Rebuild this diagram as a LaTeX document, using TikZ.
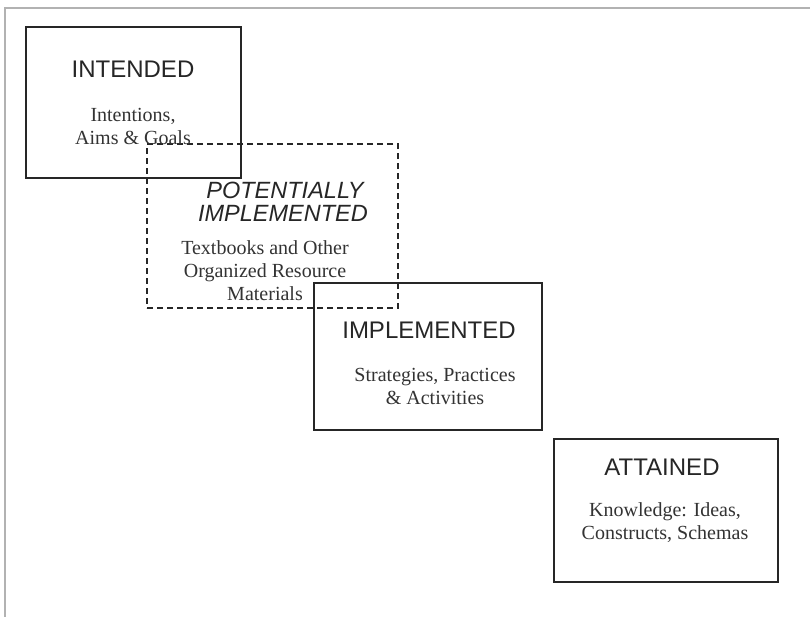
\documentclass[tikz,border=0pt]{standalone}
\usepackage{fontspec}
\setmainfont{Liberation Serif}
\newfontfamily\arialfont{Liberation Sans}
\begin{document}
\begin{tikzpicture}[x=1pt,y=-1pt,
  box/.style={draw=black!85, line width=1.8pt, inner sep=0pt, rectangle},
  dbox/.style={draw=black!85, line width=1.5pt, dash pattern=on 6pt off 4pt, inner sep=0pt, rectangle},
  title/.style={font=\arialfont\fontsize{24}{28}\selectfont, text=black!85, inner sep=0pt},
  ititle/.style={font=\arialfont\itshape\fontsize{23.5}{28}\selectfont, text=black!85, inner sep=0pt},
  body/.style={font=\fontsize{20}{23}\selectfont, text=black!80, inner sep=0pt, align=center}]
\useasboundingbox (0,0) rectangle (810,616);
\fill[white] (0,0) rectangle (810,616);
\draw[black!30, line width=2pt] (810,8) -- (5,8) -- (5,617);
% boxes
\node[box, minimum width=215, minimum height=151] (intended) at (133.5,102.5) {};
\node[dbox, minimum width=251, minimum height=164] (potential) at (272.5,226) {};
\node[box, minimum width=228, minimum height=147] (implemented) at (428,356.5) {};
\node[box, minimum width=224, minimum height=143] (attained) at (666,510.5) {};
% texts
\node[title] (t1) at (133,69) {INTENDED};
\node[body] (b1) at (133,126) {Intentions,\\Aims \& Goals};
\node[ititle] (t2a) at (285,190) {POTENTIALLY};
\node[ititle] (t2b) at (283,213.5) {IMPLEMENTED};
\node[body] (b2) at (265,271) {Textbooks and Other\\Organized Resource\\Materials};
\node[title] (t3) at (429,330) {IMPLEMENTED};
\node[body] (b3) at (435,386) {Strategies, Practices\\\& Activities};
\node[title] (t4) at (662,467) {ATTAINED};
\node[body] (b4) at (665,523) {Knowledge: Ideas,\\Constructs, Schemas};
\end{tikzpicture}
\end{document}
